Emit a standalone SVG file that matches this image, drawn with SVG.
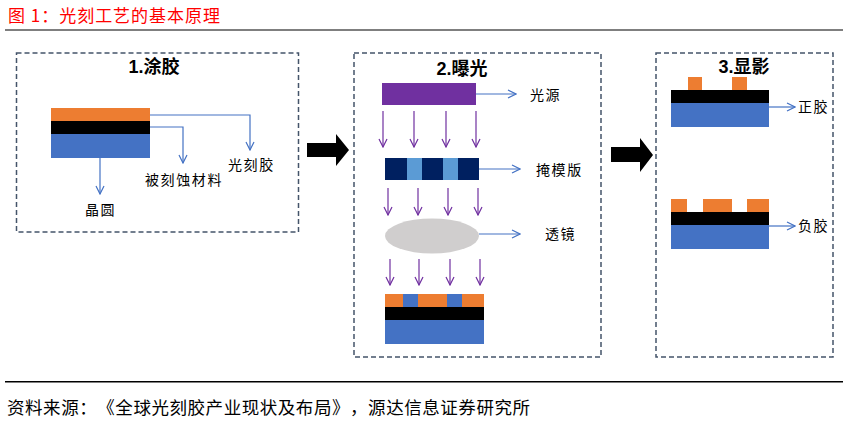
<svg xmlns="http://www.w3.org/2000/svg" width="847" height="422" viewBox="0 0 847 422">
<style>
.box{fill:none;stroke:#44546A;stroke-width:1.5;stroke-dasharray:5 3}
.title{font-family:"Liberation Sans","Noto Sans CJK SC",sans-serif;font-weight:bold;font-size:18px;fill:#000}
.lbl{font-family:"Noto Sans CJK SC",sans-serif;font-size:14px;fill:#000;letter-spacing:1.6px}
.bl{fill:none;stroke:#4472C4;stroke-width:1.2}
.pl{fill:none;stroke:#7030A0;stroke-width:1.2}
.or{fill:#ED7D31}.bk{fill:#000}.bu{fill:#4472C4}
.cap{font-family:"Noto Sans CJK SC",sans-serif;text-spacing-trim:space-all}
</style>
<defs>
<marker id="ab" viewBox="0 0 10 10" refX="9" refY="5" markerWidth="10" markerHeight="10" markerUnits="userSpaceOnUse" orient="auto"><path d="M1,1 L9,5 L1,9" fill="none" stroke="#4472C4" stroke-width="1.2"/></marker>
<marker id="ap" viewBox="0 0 10 10" refX="9" refY="5" markerWidth="10" markerHeight="10" markerUnits="userSpaceOnUse" orient="auto"><path d="M1,1 L9,5 L1,9" fill="none" stroke="#7030A0" stroke-width="1.2"/></marker>
</defs>
<rect width="847" height="422" fill="#fff"/>
<text class="cap" x="8" y="22" font-size="17" fill="#FF0000" textLength="212" lengthAdjust="spacing">图 1：光刻工艺的基本原理</text>
<rect x="5" y="29" width="838" height="2" fill="#7F7F7F"/>

<g id="step1">
<rect class="box" x="16.5" y="53" width="282" height="179"/>
<text class="title" x="154" y="73" text-anchor="middle">1.涂胶</text>
<rect class="or" x="51" y="108" width="99" height="13"/>
<rect class="bk" x="51" y="121" width="99" height="13"/>
<rect class="bu" x="51" y="134" width="99" height="24"/>
<text class="lbl" x="228" y="170">光刻胶</text>
<text class="lbl" x="145" y="185">被刻蚀材料</text>
<text class="lbl" x="85" y="215">晶圆</text>
</g>

<g id="step2">
<rect class="box" x="354" y="53" width="247" height="304"/>
<text class="title" x="462" y="75" text-anchor="middle">2.曝光</text>
<rect x="382" y="83" width="94" height="22" fill="#7030A0"/>
<text class="lbl" x="530" y="100">光源</text>
<rect x="385" y="158" width="94" height="22" fill="#002060"/>
<rect x="407" y="158" width="15" height="22" fill="#5B9BD5"/>
<rect x="443" y="158" width="15" height="22" fill="#5B9BD5"/>
<text class="lbl" x="536" y="175">掩模版</text>
<ellipse cx="432" cy="236" rx="47" ry="17.5" fill="#D0CECE"/>
<text class="lbl" x="545" y="239">透镜</text>
<rect class="or" x="385" y="294" width="99" height="13"/>
<rect class="bu" x="403" y="294" width="15" height="13"/>
<rect class="bu" x="447" y="294" width="15" height="13"/>
<rect class="bk" x="385" y="307" width="99" height="13"/>
<rect class="bu" x="385" y="320" width="99" height="24"/>
</g>

<g id="step3">
<rect class="box" x="656" y="53" width="177" height="304"/>
<text class="title" x="744" y="73" text-anchor="middle">3.显影</text>
<rect class="or" x="688" y="77" width="14" height="13"/>
<rect class="or" x="732" y="77" width="15" height="13"/>
<rect class="bk" x="671" y="90" width="98" height="13"/>
<rect class="bu" x="671" y="103" width="98" height="24"/>
<text class="lbl" x="798" y="112">正胶</text>
<rect class="or" x="671" y="199" width="16" height="13"/>
<rect class="or" x="703" y="199" width="29" height="13"/>
<rect class="or" x="747" y="199" width="22" height="13"/>
<rect class="bk" x="671" y="212" width="98" height="13"/>
<rect class="bu" x="671" y="225" width="98" height="24"/>
<text class="lbl" x="798" y="231">负胶</text>
</g>

<g id="connectors">
<polyline class="bl" points="150,115 250,115 250,150" marker-end="url(#ab)"/>
<polyline class="bl" points="150,127 183,127 183,163" marker-end="url(#ab)"/>
<polyline class="bl" points="100,158 100,194" marker-end="url(#ab)"/>
<line class="bl" x1="476" y1="94" x2="516" y2="94" marker-end="url(#ab)"/>
<line class="bl" x1="479" y1="169" x2="520" y2="169" marker-end="url(#ab)"/>
<line class="bl" x1="479" y1="234" x2="520" y2="234" marker-end="url(#ab)"/>
<line class="bl" x1="769" y1="107" x2="795" y2="107" marker-end="url(#ab)"/>
<line class="bl" x1="769" y1="226" x2="795" y2="226" marker-end="url(#ab)"/>
<line class="pl" x1="383" y1="111" x2="383" y2="147" marker-end="url(#ap)"/>
<line class="pl" x1="414" y1="111" x2="414" y2="147" marker-end="url(#ap)"/>
<line class="pl" x1="446" y1="111" x2="446" y2="147" marker-end="url(#ap)"/>
<line class="pl" x1="476" y1="111" x2="476" y2="147" marker-end="url(#ap)"/>
<line class="pl" x1="388" y1="188" x2="388" y2="215" marker-end="url(#ap)"/>
<line class="pl" x1="418" y1="188" x2="418" y2="215" marker-end="url(#ap)"/>
<line class="pl" x1="448" y1="188" x2="448" y2="215" marker-end="url(#ap)"/>
<line class="pl" x1="478" y1="188" x2="478" y2="215" marker-end="url(#ap)"/>
<line class="pl" x1="390" y1="259" x2="390" y2="285" marker-end="url(#ap)"/>
<line class="pl" x1="419" y1="259" x2="419" y2="285" marker-end="url(#ap)"/>
<line class="pl" x1="450" y1="259" x2="450" y2="285" marker-end="url(#ap)"/>
<line class="pl" x1="480" y1="259" x2="480" y2="285" marker-end="url(#ap)"/>
<polygon points="307,143 336,143 336,134 349,150 336,166 336,157 307,157" fill="#000"/>
<polygon points="611,147 640,147 640,138 653,155 640,172 640,162 611,162" fill="#000"/>
</g>

<rect x="5" y="381" width="838" height="1.5" fill="#000"/>
<text class="cap" x="7" y="414" font-size="17.5" fill="#000" textLength="523" lengthAdjust="spacing">资料来源：《全球光刻胶产业现状及布局》，源达信息证券研究所</text>
</svg>
